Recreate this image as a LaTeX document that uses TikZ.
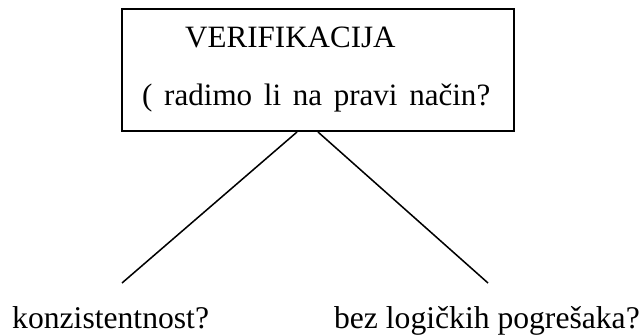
\documentclass[tikz,border=0pt]{standalone}
\usepackage{fontspec}
\setmainfont{Liberation Serif}
\usepackage{tikz}
\usetikzlibrary{positioning, calc}

\begin{document}
\begin{tikzpicture}[
    x=0.3mm, y=-0.3mm,
    frame/.style={
      rectangle, draw=black, line width=1.7pt, minimum width=392*0.3mm,
      minimum height=122*0.3mm, inner sep=0pt
    },
    txt/.style={inner sep=0pt, font=\fontsize{26.5}{32}\selectfont},
    leaf/.style={inner sep=0pt, font=\fontsize{27}{32}\selectfont},
    branch/.style={black, line width=1.3pt},
  ]
  \useasboundingbox (0,0) rectangle (643,335);
  \node[frame] (verif) at (318,70) {};
  \node[txt, anchor=base west] (title) at (185,47) {VERIFIKACIJA};
  \node[txt, anchor=base west] (question) at (142,105)
    {\makebox[104.4mm][s]{( radimo li na pravi način?}};

  \coordinate (leftend) at (122,283);
  \coordinate (rightend) at (488,283);
  \node[leaf, anchor=base west] (konz) at (12,328) {konzistentnost?};
  \node[leaf, anchor=base east] (logic) at (640,328) {bez logičkih pogrešaka?};

  \draw[branch] ($(verif.south)+(-21,0)$) -- (leftend);
  \draw[branch] (verif.south) -- (rightend);
\end{tikzpicture}
\end{document}
